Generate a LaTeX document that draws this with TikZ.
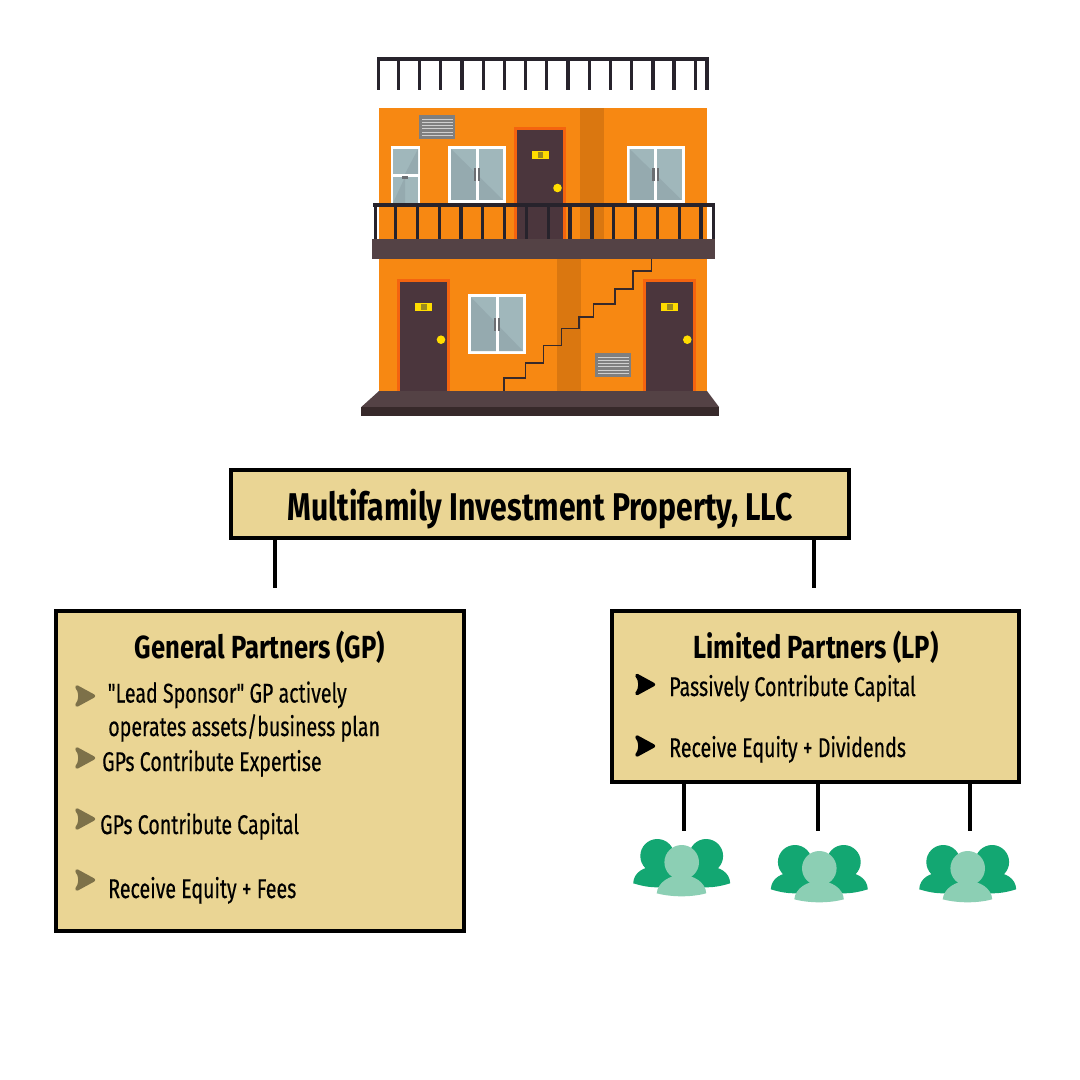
\documentclass[tikz,border=0pt]{standalone}
\usepackage{fontspec}
\setmainfont{Fira Sans}[FakeStretch=0.725,FakeBold=0.35,Ligatures=TeXOff]
\newfontfamily\titlefont{Fira Sans}[FakeStretch=0.78,BoldFont={Fira Sans Bold}]
\newfontfamily\headfont{Fira Sans}[FakeStretch=0.80,BoldFont={Fira Sans Bold}]
\definecolor{panelfill}{HTML}{EAD594}
\definecolor{wall}{HTML}{F78812}
\definecolor{wallshade}{HTML}{DA7710}
\definecolor{doorframe}{HTML}{F4640F}
\definecolor{doorbody}{HTML}{4B363D}
\definecolor{slab}{HTML}{544245}
\definecolor{slabfront}{HTML}{37292A}
\definecolor{railc}{HTML}{27232C}
\definecolor{glassa}{HTML}{A0B7BB}
\definecolor{glassb}{HTML}{95AAAF}
\definecolor{handlec}{HTML}{6B6E72}
\definecolor{signc}{HTML}{FFDD00}
\definecolor{signm}{HTML}{9A8A20}
\definecolor{ventc}{HTML}{7F7F7F}
\definecolor{ventl}{HTML}{CFCFCF}
\definecolor{gpbullet}{HTML}{7D7149}
\definecolor{peopledark}{HTML}{13A772}
\definecolor{peoplelight}{HTML}{8CCFB4}
\tikzset{
  panel/.style={draw=black,line width=3pt,fill=panelfill,inner sep=0pt},
  wire/.style={draw=black,line width=3pt},
  titletext/.style={font=\titlefont\fontsize{29}{29}\selectfont\bfseries,inner sep=0pt},
  headtext/.style={font=\headfont\fontsize{24}{24}\selectfont\bfseries,inner sep=0pt,anchor=base},
  bodytext/.style={font=\fontsize{20.3}{20.3}\selectfont,inner sep=0pt,anchor=base west},
  railbar/.style={fill=railc},
  stair/.style={draw=slabfront,line width=1.2pt}
}
\newcommand{\dblwin}[5]{%
  \fill[white] (#1,#2) rectangle (#3,#4);
  \fill[glassa] (#1+3,#2+3) rectangle (#3-3,#4-3);
  #5
  \fill[white] ({(#1+#3)/2-1.5},#2) rectangle ({(#1+#3)/2+1.5},#4);
  \fill[handlec] ({(#1+#3)/2-3.4},{(#2+#4)/2-6.5}) rectangle ({(#1+#3)/2-1.2},{(#2+#4)/2+6.5});
  \fill[handlec] ({(#1+#3)/2+1.2},{(#2+#4)/2-6.5}) rectangle ({(#1+#3)/2+3.4},{(#2+#4)/2+6.5});
}
\newcommand{\vent}[2]{%
  \fill[ventc] (#1,#2) rectangle (#1+36,#2+23.7);
  \foreach \k in {3.5,6.7,9.9,13.1,16.3,19.5}{\fill[ventl] (#1+2.5,#2+\k) rectangle (#1+33.5,#2+\k+1);}
}
\newcommand{\door}[3]{%
  \fill[doorframe] (#1,#2) rectangle (#1+52.5,#3);
  \fill[doorbody] (#1+3,#2+3) rectangle (#1+49.5,#3);
  \fill[signc] (#1+18,#2+23.7) rectangle (#1+35,#2+31.7);
  \fill[signm] (#1+24,#2+25) rectangle (#1+29.5,#2+30.5);
  \fill[signc] (#1+44,#2+60.7) circle (4.3);
}
\newcommand{\people}[2]{%
  \begin{scope}[shift={(#1,#2)}]
    \fill[peopledark] (-48.5,21) .. controls (-48,10) and (-38,4) .. (-25,4) -- (0,4) -- (0,25) -- (-25,25) .. controls (-34,25) and (-42,23) .. (-48.5,21) -- cycle;
    \fill[peopledark] (48.5,21) .. controls (48,10) and (38,4) .. (25,4) -- (0,4) -- (0,25) -- (25,25) .. controls (34,25) and (42,23) .. (48.5,21) -- cycle;
    \fill[peopledark] (-24.4,-6.3) circle (17);
    \fill[peopledark] (24.4,-6.3) circle (17);
    \fill[peoplelight] (-25,31) .. controls (-24,20) and (-12,12.7) .. (0,12.7) .. controls (12,12.7) and (24,20) .. (24.5,31) .. controls (10,35) and (-10,35) .. (-25,31) -- cycle;
    \fill[peoplelight] (0,0) circle (17.3);
  \end{scope}
}
\newcommand{\bulletmark}[3]{%
  \fill[#1,draw=#1,line width=2.6pt,line join=round] (#2+2,#3-9) -- (#2+18.5,#3) -- (#2+2,#3+9) .. controls (#2+6,#3+4) and (#2+6,#3-4) .. (#2+2,#3-9) -- cycle;
}
\begin{document}
\begin{tikzpicture}[x=0.75pt,y=-0.75pt]
\useasboundingbox (0,0) rectangle (1080,1080);
\fill[white] (0,0) rectangle (1080,1080);
% roof railing
\fill[railbar] (377,56.7) rectangle (709,60.7);
\foreach \p in {378.3,398.3,419.3,440.7,462,483.3,504.3,525.7,546.7,568,589.3,610.3,631.7,653,674,695.3,707}{
  \fill[railbar] (\p-1.7,57) rectangle (\p+1.7,90);
}
% walls
\fill[wall] (379,108) rectangle (707,391);
\fill[wallshade] (580,108) rectangle (604,240);
\fill[wallshade] (557,259) rectangle (581,391);
% upper floor
\vent{419.3}{115.3}
\fill[white] (390.7,146) rectangle (420,203);
\fill[glassa] (393,149) rectangle (418,174);
\fill[glassa] (393,177) rectangle (418,203);
\fill[glassb] (418,149) -- (418,174) -- (405,174) -- cycle;
\fill[glassb] (393,203) -- (405,177) -- (405,203) -- cycle;
\fill[handlec] (402,176) rectangle (408,179);
\dblwin{448}{146}{506}{203}{\fill[glassb] (451,149) -- (503,200) -- (451,200) -- cycle;}
\dblwin{626.7}{146}{684.7}{203}{\fill[glassb] (629.7,149) -- (681.7,200) -- (629.7,200) -- cycle;}
\door{513.5}{127.3}{240}
% balcony
\fill[railbar] (373.3,202.7) rectangle (715,206.7);
\foreach \p in {375.3,395.7,417.3,439.3,461,482.7,504.7,526.3,548.3,570,592,613.7,635.7,657.3,679.3,701,713.3}{
  \fill[railbar] (\p-1.6,203) rectangle (\p+1.6,240);
}
\fill[slab] (371.7,239.3) rectangle (715,259.3);
% lower floor
\door{397}{279}{391}
\door{643.3}{279}{391}
\dblwin{468}{294.3}{526}{354}{\fill[glassb] (471,297.3) -- (523,351) -- (471,351) -- cycle;}
\draw[stair] (503.7,391) -- (503.7,378) -- (525.3,378) -- (525.3,362.7) -- (543.3,362.7) -- (543.3,345.3) -- (561.3,345.3) -- (561.3,328.3) -- (578.7,328.3) -- (578.7,316.7) -- (593.3,316.7) -- (593.3,304) -- (615,304) -- (615,289) -- (633,289) -- (633,271) -- (651.3,271) -- (651.3,259.3);
\vent{595}{353.3}
% base
\fill[slab] (379,391) -- (707,391) -- (719,407) -- (361.3,407) -- cycle;
\fill[slabfront] (361.3,407) rectangle (719,415.7);
% boxes
\node[panel,minimum width=463.5pt,minimum height=51pt] (title) at (540,504) {};
\node[titletext,anchor=base] (titlelabel) at (540,520) {Multifamily Investment Property, LLC};
\node[panel,minimum width=306pt,minimum height=240pt] (gp) at (260,771) {};
\node[panel,minimum width=305.25pt,minimum height=128.25pt] (lp) at (815.5,696.5) {};
% connectors
\coordinate (gpstub) at (275,588);
\coordinate (lpstub) at (814,588);
\coordinate (inva) at (683.5,831);
\coordinate (invb) at (817.5,831);
\coordinate (invc) at (969.5,831);
\draw[wire] (gpstub |- title.south) -- (gpstub);
\draw[wire] (lpstub |- title.south) -- (lpstub);
\draw[wire] (inva |- lp.south) -- (inva);
\draw[wire] (invb |- lp.south) -- (invb);
\draw[wire] (invc |- lp.south) -- (invc);
% GP text
\node[headtext] (gphead) at (260,658) {General Partners (GP)};
\bulletmark{gpbullet}{75}{696}
\node[bodytext] (gpa) at (107.5,702.5) {"Lead Sponsor" GP actively};
\node[bodytext] (gpb) at (108,736) {operates assets/business plan};
\bulletmark{gpbullet}{75}{758}
\node[bodytext] (gpc) at (102,771) {GPs Contribute Expertise};
\bulletmark{gpbullet}{75}{819}
\node[bodytext] (gpd) at (100,834) {GPs Contribute Capital};
\bulletmark{gpbullet}{75}{880}
\node[bodytext] (gpe) at (108,898) {Receive Equity + Fees};
% LP text
\node[headtext] (lphead) at (816,658) {Limited Partners (LP)};
\bulletmark{black}{635}{684.5}
\node[bodytext] (lpa) at (669,696) {Passively Contribute Capital};
\bulletmark{black}{635}{746}
\node[bodytext] (lpb) at (669,757) {Receive Equity + Dividends};
% investors
\people{681.7}{862.3}
\people{819.3}{868.3}
\people{967.7}{868.3}
\end{tikzpicture}
\end{document}
